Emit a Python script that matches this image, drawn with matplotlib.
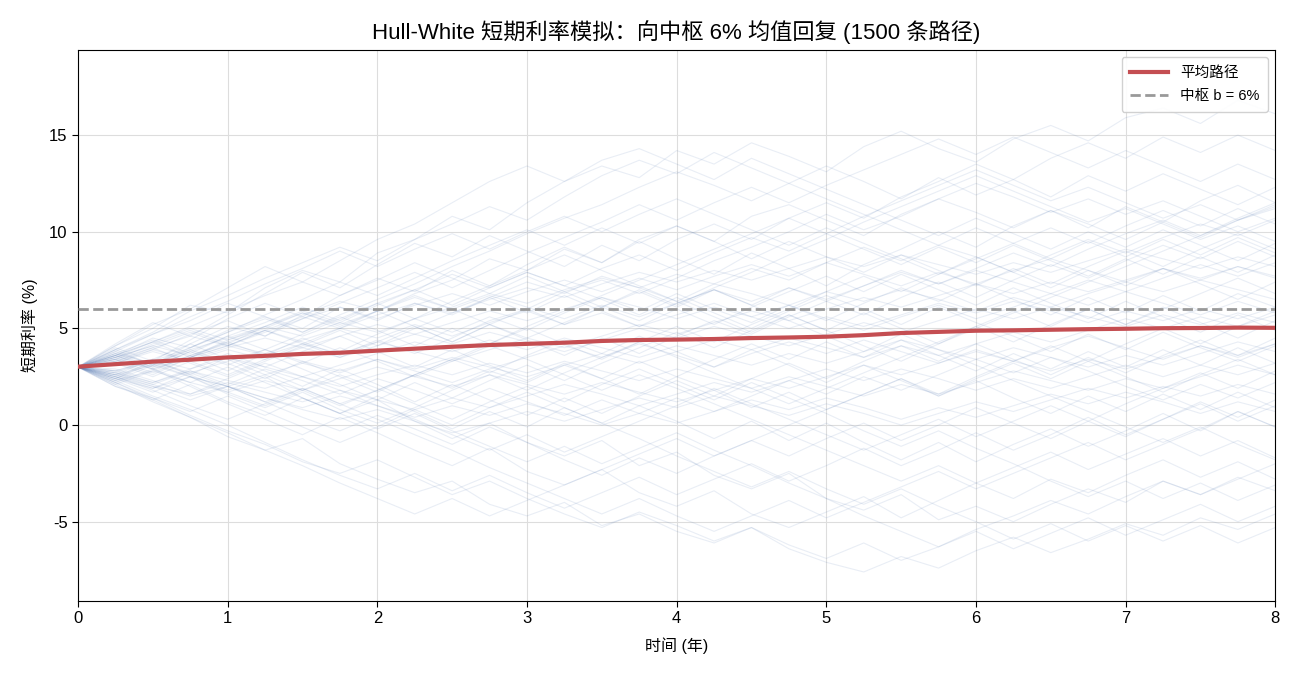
import matplotlib
matplotlib.use("Agg")
import matplotlib.pyplot as plt
import numpy as np

plt.rcParams["font.family"] = ["Liberation Sans", "Noto Sans CJK SC", "DejaVu Sans"]
plt.rcParams["axes.unicode_minus"] = False

# ── Data ──────────────────────────────────────────────────────────────────────
T_END = 8.0
CENTER = 6.0

# mean path, sampled every 0.25 year
MEAN_PATH = [3.02, 3.15, 3.28, 3.38, 3.50, 3.58, 3.68, 3.74, 3.85, 3.95,
             4.05, 4.14, 4.20, 4.26, 4.35, 4.40, 4.42, 4.45, 4.50, 4.53,
             4.57, 4.65, 4.76, 4.82, 4.88, 4.90, 4.93, 4.96, 4.98, 5.01,
             5.02, 5.04, 5.03]

# a sample of the simulated paths, every 0.25 year
PATHS = [
    [3.0, 4.1, 5.0, 6.2, 5.8, 7.1, 8.0, 7.4, 8.9, 9.6, 10.8, 10.1, 11.5, 12.6, 13.4, 12.8, 14.2, 13.5, 14.6, 13.9, 13.1, 14.4, 15.2, 14.3, 13.6, 14.8, 15.5, 14.7, 15.9, 16.4, 15.6, 16.8, 16.1],
    [3.0, 2.1, 1.2, 0.4, -0.6, -1.3, -0.7, -2.0, -2.8, -3.5, -2.9, -4.1, -4.7, -4.0, -5.2, -4.6, -5.5, -6.1, -5.3, -6.4, -7.1, -7.6, -6.8, -7.4, -6.5, -5.8, -6.6, -5.9, -5.1, -5.7, -4.8, -5.4, -4.6],
    [3.0, 3.8, 3.1, 4.2, 5.1, 4.6, 5.7, 6.4, 5.9, 6.8, 7.5, 8.6, 8.0, 9.1, 8.4, 9.6, 10.3, 9.5, 10.8, 11.4, 10.6, 9.8, 10.9, 11.7, 12.5, 11.8, 11.0, 11.7, 10.9, 11.6, 10.8, 10.0, 10.7],
    [3.0, 2.4, 3.3, 2.6, 1.8, 2.5, 1.4, 0.6, 1.3, 0.2, -0.7, 0.1, -0.9, -1.6, -0.8, -2.1, -1.4, -2.6, -3.3, -2.5, -3.8, -4.4, -3.6, -4.9, -4.2, -5.0, -4.1, -3.3, -4.0, -2.9, -3.6, -2.7, -3.4],
    [3.0, 3.6, 4.5, 4.0, 4.9, 5.6, 5.0, 6.1, 5.4, 6.3, 5.7, 6.6, 7.4, 6.8, 7.7, 7.1, 6.4, 7.3, 8.1, 7.5, 8.4, 9.2, 8.5, 9.3, 8.7, 7.9, 8.8, 9.6, 8.9, 9.7, 10.4, 9.8, 10.6],
    [3.0, 2.5, 1.9, 2.7, 2.0, 1.2, 1.9, 1.1, 1.8, 2.6, 1.9, 2.8, 2.2, 3.1, 2.4, 1.6, 2.5, 1.8, 0.9, 1.7, 0.8, 1.6, 2.4, 1.5, 2.3, 1.4, 0.6, 1.5, 0.7, 1.6, 0.8, 1.7, 0.9],
    [3.0, 3.9, 4.8, 5.9, 6.7, 7.6, 8.4, 9.2, 8.5, 9.6, 10.4, 11.3, 10.6, 11.8, 12.9, 13.7, 13.0, 14.1, 13.3, 12.5, 13.4, 12.6, 11.7, 12.8, 11.9, 12.7, 11.8, 12.9, 12.1, 13.0, 12.2, 11.4, 12.3],
    [3.0, 2.2, 2.9, 2.0, 1.1, 0.3, -0.5, 0.4, -0.4, -1.3, -2.1, -1.2, -2.4, -3.1, -2.3, -3.5, -4.2, -3.4, -4.6, -5.3, -4.5, -3.7, -4.8, -3.9, -3.0, -3.8, -2.8, -3.5, -2.6, -1.8, -2.7, -1.9, -2.8],
    [3.0, 3.4, 2.7, 3.5, 4.3, 3.6, 4.5, 3.8, 4.7, 5.5, 4.8, 5.6, 4.9, 5.8, 6.6, 5.9, 6.8, 6.0, 5.3, 6.2, 5.4, 6.3, 7.1, 6.4, 7.3, 6.5, 5.7, 6.6, 5.8, 6.7, 5.9, 6.8, 6.1],
    [3.0, 2.3, 3.1, 3.9, 3.2, 2.4, 3.3, 2.5, 1.7, 2.6, 3.4, 2.7, 3.6, 4.4, 3.7, 4.6, 3.8, 3.0, 3.9, 3.1, 2.2, 3.1, 2.3, 1.5, 2.4, 3.2, 2.4, 3.3, 2.5, 1.7, 2.6, 3.4, 2.6],
    [3.0, 4.0, 3.3, 4.4, 5.5, 6.3, 5.6, 6.7, 7.6, 6.9, 8.0, 7.2, 8.3, 9.2, 8.4, 9.5, 8.6, 7.8, 8.9, 8.1, 7.2, 8.3, 9.1, 10.0, 9.2, 10.3, 11.1, 10.2, 11.3, 10.5, 11.6, 12.4, 11.5],
    [3.0, 2.0, 1.3, 2.1, 1.2, 0.5, 1.4, 0.6, 1.5, 0.7, -0.2, 0.7, -0.1, 0.9, 0.1, 1.0, 0.2, -0.7, 0.2, -0.8, 0.1, -0.9, -1.8, -0.9, -1.9, -1.0, -0.2, -1.1, -0.3, 0.6, -0.3, 0.7, -0.1],
    [3.0, 3.7, 4.4, 3.7, 4.6, 5.3, 6.1, 5.4, 6.3, 7.0, 6.2, 7.1, 7.9, 7.2, 8.1, 8.8, 8.0, 8.9, 9.7, 9.0, 9.9, 9.1, 8.3, 9.2, 8.4, 9.3, 8.5, 7.7, 8.6, 7.8, 8.7, 7.9, 8.8],
    [3.0, 2.6, 2.0, 1.3, 2.0, 1.2, 0.4, -0.3, 0.5, -0.2, -1.0, -0.1, -0.9, -1.8, -2.6, -1.7, -2.5, -1.6, -0.8, -1.6, -0.7, 0.1, -0.8, 0.0, 0.9, 0.1, -0.7, 0.2, -0.6, 0.3, 1.1, 0.2, 1.0],
    [3.0, 3.5, 4.1, 4.8, 4.1, 4.9, 4.2, 5.0, 5.9, 5.1, 4.3, 5.2, 4.4, 3.6, 4.5, 3.7, 4.6, 5.4, 4.7, 5.6, 6.4, 5.7, 6.6, 7.4, 6.6, 7.5, 8.3, 7.6, 8.5, 9.3, 8.6, 9.5, 8.7],
    [3.0, 2.7, 3.4, 2.6, 3.5, 2.8, 2.0, 2.9, 2.1, 1.2, 2.1, 1.3, 0.5, 1.4, 0.6, 1.5, 2.3, 1.5, 2.4, 3.2, 2.4, 3.3, 4.1, 3.3, 4.2, 3.4, 2.6, 3.5, 2.7, 3.6, 4.4, 3.6, 4.5],
    [3.0, 4.2, 5.3, 4.6, 5.7, 6.8, 7.9, 7.1, 8.3, 9.4, 8.7, 9.8, 9.0, 8.2, 9.3, 8.5, 9.6, 10.4, 9.6, 10.7, 11.5, 10.7, 11.8, 12.6, 13.5, 12.7, 13.8, 14.6, 13.8, 14.9, 14.1, 15.0, 14.2],
    [3.0, 2.3, 1.5, 0.8, 0.0, -0.9, -1.8, -2.6, -3.3, -2.5, -3.4, -2.6, -3.5, -4.3, -3.5, -2.7, -3.6, -2.8, -2.0, -2.9, -2.1, -1.2, -2.1, -1.3, -0.4, -1.3, -0.5, 0.4, -0.5, 0.3, 1.2, 0.4, 1.3],
    [3.0, 3.3, 4.0, 3.2, 2.5, 3.3, 4.1, 4.9, 4.1, 5.0, 5.8, 6.6, 5.8, 6.7, 5.9, 5.1, 6.0, 5.2, 6.1, 6.9, 7.7, 6.9, 7.8, 7.0, 6.2, 7.1, 6.3, 5.5, 6.4, 5.6, 4.8, 5.7, 4.9],
    [3.0, 2.4, 3.2, 2.5, 1.7, 1.0, 1.8, 2.6, 1.9, 1.1, 0.3, 1.2, 2.0, 1.2, 2.1, 2.9, 2.1, 1.3, 2.2, 1.4, 0.6, -0.3, -1.1, -0.3, -1.2, -2.0, -2.9, -3.7, -2.9, -3.8, -3.0, -3.9, -3.1],
    [3.0, 3.9, 3.1, 4.0, 4.8, 5.7, 6.5, 7.4, 6.7, 7.6, 8.5, 9.3, 10.1, 9.3, 10.2, 9.4, 10.3, 9.5, 8.6, 9.5, 8.7, 7.9, 8.8, 8.0, 7.2, 8.1, 7.3, 8.2, 9.0, 8.2, 9.1, 9.9, 9.1],
    [3.0, 2.1, 2.8, 3.6, 2.8, 3.7, 2.9, 2.1, 1.3, 2.2, 1.4, 2.3, 3.1, 2.3, 3.2, 4.0, 4.8, 4.0, 4.9, 5.7, 4.9, 5.8, 5.0, 4.2, 5.1, 4.3, 5.2, 6.0, 5.2, 6.1, 5.3, 4.5, 5.4],
    [3.0, 3.6, 2.9, 2.2, 3.0, 2.2, 1.4, 0.6, -0.2, 0.6, -0.3, -1.1, -1.9, -1.1, -2.0, -1.2, -0.4, -1.3, -2.1, -3.0, -3.8, -4.7, -5.5, -6.3, -5.5, -6.4, -5.6, -4.8, -5.7, -4.9, -4.1, -5.0, -4.2],
    [3.0, 3.2, 3.9, 4.7, 5.4, 4.6, 5.5, 6.3, 7.1, 7.9, 7.1, 8.0, 8.9, 9.7, 10.5, 11.4, 10.6, 11.5, 12.3, 11.5, 12.4, 13.2, 14.0, 14.8, 14.0, 14.9, 14.1, 13.3, 14.2, 13.4, 12.6, 13.5, 12.7],
    [3.0, 2.8, 2.2, 2.9, 3.7, 3.0, 3.8, 4.6, 3.8, 3.0, 3.9, 3.1, 2.3, 3.2, 2.4, 3.3, 2.5, 3.4, 4.2, 3.4, 4.3, 3.5, 4.4, 3.6, 2.8, 3.7, 2.9, 3.8, 3.0, 3.9, 3.1, 4.0, 3.2],
    [3.0, 3.9, 4.7, 5.6, 6.4, 7.3, 8.1, 9.0, 8.2, 9.1, 9.9, 9.1, 10.0, 10.8, 10.0, 10.9, 11.7, 10.9, 10.1, 9.3, 10.2, 9.4, 8.6, 7.8, 8.7, 7.9, 7.1, 8.0, 7.2, 8.1, 7.3, 6.5, 7.4],
    [3.0, 2.2, 1.4, 0.7, 1.5, 0.7, -0.1, -0.9, -0.1, 0.8, 0.0, 0.9, 1.7, 0.9, 0.1, -0.7, -1.6, -2.4, -3.2, -2.4, -3.3, -4.1, -3.3, -4.2, -5.0, -5.9, -5.1, -6.0, -5.2, -6.0, -5.2, -6.1, -5.3],
    [3.0, 3.5, 4.3, 5.1, 5.9, 6.7, 7.4, 6.7, 7.5, 8.4, 7.6, 6.8, 7.7, 6.9, 6.1, 7.0, 6.2, 7.1, 7.9, 8.8, 9.6, 10.5, 11.3, 12.1, 12.9, 12.1, 11.3, 10.5, 11.2, 10.4, 9.6, 10.3, 9.5],
    [3.0, 2.5, 1.8, 1.0, 0.3, 1.1, 1.9, 1.1, 0.3, -0.5, -1.3, -2.2, -3.0, -3.8, -4.6, -3.8, -4.7, -5.5, -4.7, -3.9, -4.8, -4.0, -3.2, -2.4, -3.3, -2.5, -1.7, -0.9, -1.8, -1.0, -0.2, 0.7, -0.1],
    [3.0, 3.7, 3.0, 3.8, 3.1, 3.9, 4.7, 5.5, 6.3, 5.5, 6.4, 7.2, 8.0, 8.8, 8.0, 7.2, 6.4, 5.6, 4.8, 5.7, 4.9, 4.1, 3.3, 4.2, 5.0, 5.8, 6.6, 7.4, 8.2, 9.0, 9.8, 10.6, 11.4],
    [3.0, 2.6, 3.4, 4.2, 3.4, 2.6, 1.8, 1.0, 1.8, 2.6, 3.4, 4.2, 5.0, 4.2, 3.4, 4.3, 3.5, 2.7, 1.9, 1.1, 1.9, 2.7, 3.5, 4.3, 5.1, 5.9, 5.1, 6.0, 5.2, 6.0, 6.8, 7.6, 6.8],
    [3.0, 3.3, 2.6, 3.5, 4.1, 4.9, 4.3, 3.6, 4.4, 3.7, 4.5, 5.4, 6.0, 6.9, 7.5, 6.8, 7.6, 8.5, 9.2, 10.0, 10.9, 10.1, 10.8, 11.7, 11.0, 10.2, 11.1, 10.4, 9.6, 10.5, 9.7, 10.6, 11.2],
    [3.0, 2.0, 1.4, 0.5, -0.3, -1.0, -1.9, -2.5, -1.8, -2.7, -3.6, -2.9, -3.8, -4.6, -5.3, -4.5, -5.2, -6.0, -5.3, -6.2, -6.9, -6.1, -7.0, -6.3, -5.4, -4.7, -3.9, -4.6, -3.7, -2.9, -3.6, -2.8, -2.0],
    [3.0, 3.6, 4.3, 3.5, 4.4, 5.0, 5.8, 5.1, 5.9, 6.7, 6.0, 5.2, 4.5, 5.3, 6.1, 5.4, 6.3, 7.0, 6.2, 7.1, 6.4, 7.2, 8.0, 7.3, 8.1, 8.9, 8.2, 9.1, 9.9, 10.6, 9.8, 10.7, 11.5],
    [3.0, 2.7, 2.1, 2.8, 2.1, 2.9, 2.3, 1.6, 2.4, 1.8, 1.1, 1.9, 1.2, 0.5, 1.3, 0.6, 1.4, 0.7, 1.5, 2.3, 1.6, 2.5, 1.8, 2.6, 3.4, 2.7, 3.5, 2.8, 2.0, 1.3, 2.1, 1.4, 2.2],
    [3.0, 3.4, 4.2, 4.9, 4.2, 5.1, 5.9, 5.3, 6.2, 7.0, 7.8, 7.1, 7.9, 7.2, 6.5, 5.7, 6.6, 5.8, 5.0, 5.9, 6.7, 6.0, 5.2, 6.1, 5.3, 4.6, 3.8, 4.7, 3.9, 4.8, 4.0, 3.3, 4.1],
    [3.0, 2.4, 1.7, 2.5, 1.6, 0.9, 1.7, 0.8, 0.1, 0.9, 1.8, 2.6, 1.8, 2.7, 3.5, 4.3, 5.1, 4.3, 5.2, 6.0, 6.9, 7.7, 6.9, 7.8, 8.6, 9.4, 10.2, 9.4, 10.3, 11.1, 10.3, 11.2, 10.4],
    [3.0, 3.8, 4.7, 5.4, 6.3, 5.6, 4.8, 5.7, 6.5, 7.3, 8.2, 9.0, 9.9, 10.7, 11.4, 12.3, 13.1, 12.4, 11.6, 12.5, 11.7, 10.9, 10.1, 9.3, 10.2, 9.4, 8.6, 9.5, 8.7, 9.6, 8.8, 9.7, 8.9],
    [3.0, 2.9, 2.3, 1.6, 2.4, 3.2, 2.5, 1.8, 1.0, 0.3, -0.5, -1.3, -0.5, -1.4, -0.6, 0.2, 1.0, 1.9, 1.1, 0.3, -0.5, -1.3, -0.5, 0.3, -0.6, 0.2, 1.0, 0.2, 1.1, 1.9, 2.7, 1.9, 2.8],
    [3.0, 3.2, 2.5, 3.3, 2.6, 3.4, 4.2, 3.5, 4.3, 5.1, 4.3, 5.2, 6.0, 5.2, 6.1, 6.9, 6.1, 7.0, 6.2, 5.4, 4.6, 3.8, 4.7, 3.9, 3.1, 2.3, 1.5, 0.7, -0.1, -0.9, -0.1, -1.0, -1.8],
    [3.0, 4.1, 5.2, 6.0, 7.1, 8.2, 7.4, 8.5, 9.6, 10.4, 11.5, 12.6, 13.4, 12.6, 13.7, 14.3, 13.5, 12.7, 13.8, 13.0, 12.2, 11.4, 10.6, 9.8, 10.7, 9.9, 9.1, 10.0, 9.2, 10.1, 9.3, 8.5, 9.4],
    [3.0, 2.2, 1.3, 0.4, -0.4, -1.3, -2.1, -3.0, -3.8, -4.6, -3.8, -4.7, -3.9, -3.1, -2.3, -1.5, -0.7, -1.6, -0.8, 0.0, 0.8, 1.6, 2.4, 1.6, 2.5, 3.3, 4.1, 3.3, 4.2, 5.0, 4.2, 5.1, 5.9],
    [3.0, 3.6, 3.0, 3.8, 4.6, 3.9, 3.2, 4.0, 3.3, 2.5, 3.3, 4.1, 3.4, 2.6, 1.8, 2.6, 1.9, 1.1, 0.3, -0.5, -1.3, -2.1, -2.9, -2.1, -3.0, -2.2, -1.4, -2.3, -1.5, -0.7, -1.6, -0.8, -1.7],
    [3.0, 2.5, 3.3, 4.0, 4.8, 5.5, 4.8, 5.6, 4.9, 4.1, 5.0, 4.2, 5.1, 5.9, 6.7, 7.5, 8.3, 9.1, 9.9, 10.7, 9.9, 10.8, 11.6, 12.4, 13.2, 12.4, 11.6, 12.3, 11.5, 10.7, 11.4, 10.6, 11.3],
    # paths that stay in the dense middle band
    [3.0, 3.5, 2.9, 3.6, 4.2, 3.7, 4.4, 5.0, 4.5, 5.2, 4.6, 5.3, 5.9, 5.2, 5.8, 5.1, 5.7, 6.3, 5.6, 6.2, 5.5, 4.9, 5.6, 6.2, 5.5, 6.1, 6.8, 6.2, 6.9, 6.3, 5.7, 6.4, 5.8],
    [3.0, 2.6, 3.1, 2.5, 2.0, 2.6, 3.2, 2.7, 3.4, 2.8, 2.2, 2.9, 3.5, 4.1, 3.5, 4.2, 3.6, 3.0, 3.7, 4.3, 3.7, 4.4, 3.8, 3.2, 3.9, 3.3, 4.0, 4.6, 4.0, 3.4, 4.1, 3.5, 4.2],
    [3.0, 3.4, 4.0, 4.6, 4.1, 4.8, 5.5, 6.1, 5.5, 6.2, 6.8, 6.2, 6.9, 7.5, 6.9, 7.6, 7.0, 7.7, 8.3, 7.7, 8.4, 7.8, 7.2, 7.9, 7.3, 8.0, 8.6, 8.0, 7.4, 8.1, 7.5, 8.2, 7.6],
    [3.0, 2.5, 2.0, 1.6, 2.2, 1.7, 1.2, 1.8, 1.3, 0.8, 1.4, 0.9, 1.5, 2.1, 1.6, 1.0, 1.6, 2.2, 1.7, 2.3, 2.9, 2.3, 2.9, 2.4, 1.8, 2.4, 1.9, 2.5, 3.1, 2.5, 3.1, 2.6, 3.2],
    [3.0, 3.3, 3.9, 3.4, 4.0, 4.5, 4.0, 3.5, 4.1, 4.7, 4.2, 4.8, 4.3, 3.8, 4.4, 5.0, 4.5, 5.1, 4.6, 4.1, 4.7, 5.3, 4.8, 5.4, 6.0, 5.5, 6.1, 5.6, 5.1, 5.7, 5.2, 5.8, 5.3],
    [3.0, 2.7, 2.2, 2.8, 2.3, 1.9, 2.5, 2.0, 2.6, 3.1, 2.6, 3.2, 2.7, 3.3, 2.8, 2.3, 2.9, 2.4, 1.9, 2.5, 2.0, 1.5, 2.1, 1.6, 2.2, 2.8, 2.3, 1.8, 2.4, 1.9, 2.5, 3.1, 2.6],
    [3.0, 3.6, 4.3, 5.0, 4.4, 5.1, 5.8, 5.2, 5.9, 6.6, 6.0, 6.7, 6.1, 5.5, 6.2, 5.6, 6.3, 7.0, 6.4, 7.1, 6.5, 7.2, 7.9, 7.3, 8.0, 7.4, 6.8, 7.5, 6.9, 7.6, 8.3, 7.7, 8.4],
    [3.0, 2.4, 1.9, 2.5, 2.0, 1.4, 0.9, 1.5, 1.0, 0.4, 1.0, 0.5, 1.1, 0.6, 0.0, 0.6, 0.1, 0.7, 1.3, 0.8, 1.4, 0.9, 0.3, 0.9, 0.4, 1.0, 1.6, 1.1, 1.7, 1.2, 0.6, 1.2, 0.7],
    [3.0, 3.2, 3.8, 3.3, 3.9, 3.4, 4.0, 4.6, 5.2, 4.7, 5.3, 5.9, 5.4, 6.0, 6.6, 6.1, 5.5, 6.1, 5.6, 5.0, 5.6, 5.1, 5.7, 6.3, 5.8, 6.4, 5.9, 5.3, 5.9, 5.4, 6.0, 5.5, 6.1],
    [3.0, 2.8, 3.3, 2.7, 3.3, 3.9, 3.3, 2.8, 3.4, 2.9, 3.5, 3.0, 2.5, 3.1, 3.7, 3.2, 3.8, 4.4, 3.9, 4.5, 4.0, 3.5, 4.1, 3.6, 4.2, 4.8, 4.3, 4.9, 5.5, 5.0, 5.6, 5.1, 5.7],
    [3.0, 3.7, 3.2, 3.9, 4.5, 5.1, 4.6, 5.3, 4.8, 5.5, 6.1, 6.8, 6.3, 7.0, 7.6, 7.1, 7.8, 7.3, 6.8, 6.2, 6.9, 6.4, 7.0, 6.5, 5.9, 6.6, 6.1, 6.8, 7.4, 6.9, 7.5, 7.0, 6.5],
    [3.0, 2.3, 2.8, 2.2, 1.7, 2.3, 1.8, 2.4, 3.0, 2.5, 2.0, 2.6, 2.1, 1.6, 2.2, 1.7, 1.2, 1.8, 2.4, 1.9, 2.5, 3.1, 2.6, 3.2, 3.8, 3.3, 2.8, 3.4, 2.9, 3.5, 4.1, 3.6, 4.2],
    [3.0, 3.4, 2.9, 3.5, 4.1, 3.6, 4.2, 3.7, 4.3, 3.8, 3.3, 3.9, 4.5, 4.0, 4.6, 5.2, 4.7, 5.3, 5.9, 5.4, 6.0, 6.6, 6.1, 6.7, 7.3, 6.8, 7.4, 6.9, 7.5, 8.1, 7.6, 8.2, 7.7],
    [3.0, 2.6, 2.1, 1.5, 2.0, 1.4, 0.8, 0.3, 0.8, 0.2, -0.4, 0.1, 0.7, 0.2, 0.8, 1.4, 0.9, 1.5, 1.0, 0.5, 1.1, 0.6, 0.0, 0.6, 1.2, 0.7, 1.3, 1.9, 1.4, 2.0, 1.5, 2.1, 1.6],
    [3.0, 3.5, 4.1, 3.6, 4.3, 4.9, 5.6, 5.0, 5.7, 6.3, 5.8, 6.5, 7.1, 6.6, 7.3, 7.9, 7.4, 8.0, 7.5, 8.1, 8.7, 8.2, 8.8, 8.3, 7.8, 8.4, 7.9, 8.5, 9.1, 8.6, 8.1, 8.7, 8.2],
    [3.0, 2.8, 3.4, 2.9, 3.5, 3.0, 2.5, 3.1, 3.7, 4.3, 3.8, 4.4, 3.9, 4.5, 4.0, 3.5, 4.1, 3.6, 3.1, 3.7, 3.2, 3.8, 4.4, 3.9, 3.4, 4.0, 3.5, 3.0, 3.6, 3.1, 3.7, 4.3, 3.8],
]

N_PATHS_TOTAL = 1500

# ── Style ─────────────────────────────────────────────────────────────────────
COLOR_PATH = "#4C72B0"
COLOR_MEAN = "#C44E52"
COLOR_CENTER = "#999999"
COLOR_GRID = "#DDDDDD"

fig = plt.figure(figsize=(13, 6.76), dpi=100)
ax = fig.add_axes([0.06, 0.111, 0.921, 0.815])

for p in PATHS:
    t = np.linspace(0, T_END, len(p))
    ax.plot(t, p, color=COLOR_PATH, alpha=0.12, linewidth=0.8, zorder=2)

t_mean = np.linspace(0, T_END, len(MEAN_PATH))
ax.plot(t_mean, MEAN_PATH, color=COLOR_MEAN, linewidth=3, label="平均路径", zorder=4)
ax.axhline(CENTER, color=COLOR_CENTER, linestyle="--", linewidth=2,
           label=f"中枢 b = {CENTER:.0f}%", zorder=3)

ax.set_xlim(0, T_END)
ax.set_ylim(-9.1, 19.4)
ax.set_yticks([-5, 0, 5, 10, 15])
ax.set_xticks(range(0, 9))
ax.grid(True, color=COLOR_GRID, linewidth=0.8)
ax.set_axisbelow(True)
ax.tick_params(labelsize=12, length=4)

ax.set_title(f"Hull-White 短期利率模拟：向中枢 {CENTER:.0f}% 均值回复 ({N_PATHS_TOTAL} 条路径)",
             fontsize=16, pad=8)
ax.set_xlabel("时间 (年)", fontsize=11.5, labelpad=8)
ax.set_ylabel("短期利率 (%)", fontsize=11.5, labelpad=8)

ax.legend(loc="upper right", fontsize=10.5, framealpha=0.9, edgecolor="#CCCCCC",
          handlelength=2.6, borderpad=0.6, labelspacing=0.6)

fig.savefig("out.png", dpi=100, facecolor="white")
